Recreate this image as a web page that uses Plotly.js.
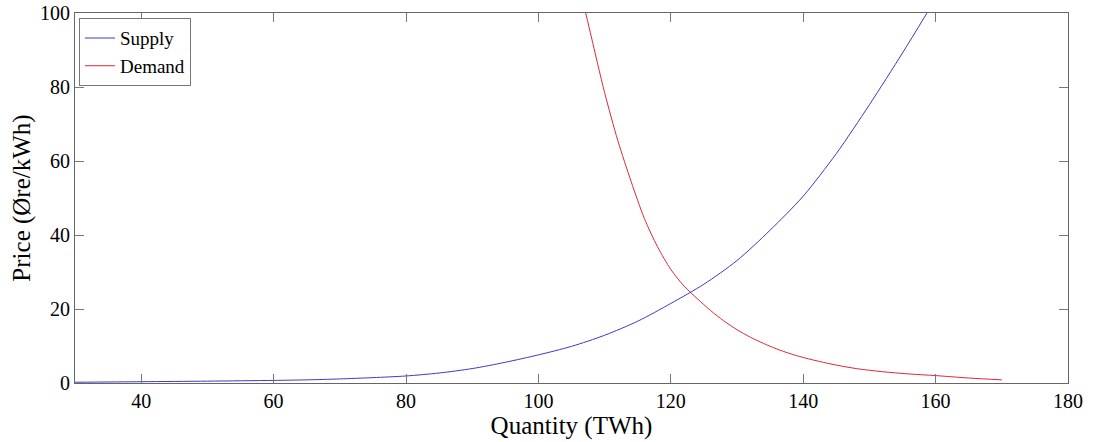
<!DOCTYPE html>
<html>
<head>
<meta charset="utf-8">
<script src="https://cdn.plot.ly/plotly-3.0.1.min.js"></script>
<style>html,body{margin:0;padding:0;background:#fff;}</style>
</head>
<body>
<div id="chart" style="width:1095px;height:442px;"></div>
<script>
const supplyX = [30, 40, 50, 60, 65, 70, 75, 80, 85, 90, 95, 100, 105, 110, 115, 120, 125, 130, 135, 140, 145, 150, 155, 158.7];
const supplyY = [0.2, 0.35, 0.5, 0.7, 0.85, 1.1, 1.45, 1.9, 2.7, 3.9, 5.6, 7.6, 9.9, 12.9, 16.7, 21.5, 26.7, 33.1, 41.3, 50.5, 62, 75.2, 89.2, 100];
const demandX = [107.15, 108, 110, 112, 114, 116, 118, 120, 122, 124, 126, 128, 130, 132, 134, 136, 138, 140, 144, 148, 152, 156, 160, 165, 170];
const demandY = [100, 93.5, 78.5, 65.5, 54.5, 44.5, 36.8, 30.7, 26.2, 22.8, 19.6, 16.8, 14.4, 12.4, 10.7, 9.2, 7.95, 6.9, 5.2, 3.9, 3.05, 2.45, 2.0, 1.35, 0.85];
const xTicks = [40, 60, 80, 100, 120, 140, 160, 180];
const yTicks = [0, 20, 40, 60, 80, 100];

const font = 'Liberation Serif, Times New Roman, serif';
const traces = [
  {x: supplyX, y: supplyY, name: 'Supply', mode: 'lines', line: {color: '#3a3ac8', width: 1, shape: 'spline', smoothing: 0.8}},
  {x: demandX, y: demandY, name: 'Demand', mode: 'lines', line: {color: '#d82a3a', width: 1, shape: 'spline', smoothing: 0.8}}
];
const axisCommon = {
  showgrid: false, zeroline: false, showline: true, mirror: 'ticks',
  linecolor: '#666', linewidth: 1, ticks: 'inside', ticklen: 9, tickcolor: '#777', tickwidth: 1,
  tickfont: {family: font, size: 20, color: '#000'}
};
const layout = {
  width: 1095, height: 442,
  margin: {l: 75, r: 27, t: 13, b: 59},
  paper_bgcolor: '#fff', plot_bgcolor: '#fff',
  font: {family: font, color: '#000'},
  showlegend: true,
  legend: {x: 0.004, y: 0.986, xanchor: 'left', yanchor: 'top',
    bgcolor: '#fff', bordercolor: '#777', borderwidth: 1,
    font: {family: font, size: 19, color: '#000'}, tracegroupgap: 0, itemwidth: 30},
  xaxis: Object.assign({}, axisCommon, {range: [30, 180], tickvals: xTicks,
    title: {text: 'Quantity (TWh)', font: {family: font, size: 25, color: '#000'}, standoff: 0}}),
  yaxis: Object.assign({}, axisCommon, {range: [0, 100], tickvals: yTicks,
    title: {text: 'Price (Øre/kWh)', font: {family: font, size: 25, color: '#000'}, standoff: 2}})
};
Plotly.newPlot('chart', traces, layout, {displayModeBar: false, staticPlot: true});
</script>
</body>
</html>
